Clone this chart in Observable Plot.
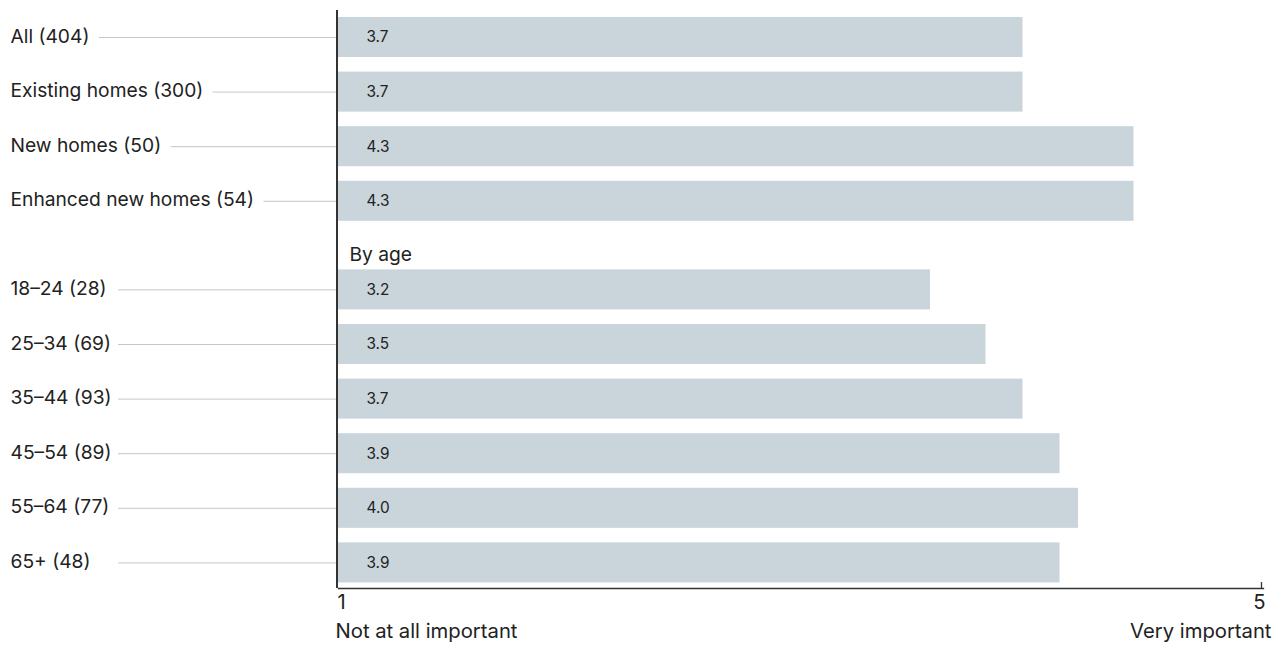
<!DOCTYPE html>
<html><head><meta charset="utf-8">
<script src="https://cdn.jsdelivr.net/npm/d3@7"></script>
<script src="https://cdn.jsdelivr.net/npm/@observablehq/plot@0.6"></script>
<style>body{margin:0;background:#fff;}</style>
</head><body><div id="chart"></div>
<script>
const overallLabels = ["All (404)", "Existing homes (300)", "New homes (50)", "Enhanced new homes (54)"];
const overallValues = [3.7, 3.7, 4.3, 4.3];
const ageLabels = ["18–24 (28)", "25–34 (69)", "35–44 (93)", "45–54 (89)", "55–64 (77)", "65+ (48)"];
const ageValues = [3.2, 3.5, 3.7, 3.9, 4.0, 3.9];
const groupTitle = "By age";
const tickValues = [0, 5];
const tickLabels = ["1", "5"];
const axisEndLabels = ["Not at all important", "Very important"];

const W = 1282, H = 651;
const mL = 338, mR = 19, mT = 2, mB = 63;
const FAMILY = "Inter";
const ageShift = 34;
const barFill = "#c9d5da";
const ink = "#222";

const ctx = document.createElement("canvas").getContext("2d");
const measure = (s, size) => { ctx.font = `${size}px ${FAMILY}`; return ctx.measureText(s).width; };
// font size fitted so that a reference string reaches the width seen in the original
const fitSize = (s, target) => +(20 * target / measure(s, 20)).toFixed(2);
const labelSize = fitSize("Existing homes (300)", 193);
const valueSize = fitSize("3.7", 22);
const axisSize = fitSize("Not at all important", 182);

const overallRows = overallLabels.map((label, i) => ({label, value: overallValues[i], group: "overall"}));
const ageRows = ageLabels.map((label, i) => ({label, value: ageValues[i], group: "age"}));
const rows = [...overallRows, ...ageRows];

const pxPerUnit = (W - mL - mR) / 5;
const labelLeft = 10;
const ageMax = d3.max(ageRows, r => measure(r.label, labelSize));
const leaderStart = r => {
  const end = r.group === "age" ? ageMax + 7 : measure(r.label, labelSize) + 10;
  return (labelLeft + end - mL) / pxPerUnit;
};

function groupMarks(data, dy) {
  return [
    Plot.ruleY(data, {y: "label", x1: leaderStart, x2: 0, stroke: "#c6c6c6", strokeWidth: 1, dy}),
    Plot.barX(data, {x: "value", y: "label", fill: barFill, dy}),
    Plot.text(data, {x: 0, y: "label", text: d => d.value.toFixed(1), textAnchor: "start", dx: 28, fontSize: valueSize, dy}),
    Plot.text(data, {y: "label", text: "label", frameAnchor: "left", textAnchor: "start", dx: labelLeft - mL, fontSize: labelSize, dy: dy - 1})
  ];
}

const chart = Plot.plot({
  width: W, height: H,
  marginLeft: mL, marginRight: mR, marginTop: mT, marginBottom: mB,
  style: {fontFamily: FAMILY, fontSize: labelSize + "px", color: ink, background: "#fff"},
  x: {domain: [0, 5], axis: null},
  y: {type: "band", domain: rows.map(r => r.label), range: [2.4, 563], padding: 0.267, round: false, axis: null},
  marks: [
    ...groupMarks(overallRows, 0),
    ...groupMarks(ageRows, ageShift),
    Plot.text([groupTitle], {x: 0, y: () => ageLabels[0], text: d => d, textAnchor: "start", dx: 11, dy: -1, fontSize: labelSize}),
    Plot.ruleX([0], {stroke: "#333", strokeWidth: 2, dx: -1.5, insetTop: 8}),
    Plot.frame({anchor: "bottom", stroke: "#333", strokeWidth: 1.3}),
    Plot.ruleX([tickValues[1]], {stroke: "#333", strokeWidth: 1.3, insetTop: (H - mT - mB) - 6, dx: -2}),
    Plot.text([tickValues[0]], {x: d => d, text: () => tickLabels[0], frameAnchor: "bottom", dy: 20, textAnchor: "start", dx: -1, fontSize: axisSize}),
    Plot.text([tickValues[1]], {x: d => d, text: () => tickLabels[1], frameAnchor: "bottom", dy: 20, textAnchor: "end", dx: 2, fontSize: axisSize}),
    Plot.text([tickValues[0]], {x: d => d, text: () => axisEndLabels[0], frameAnchor: "bottom", dy: 49, textAnchor: "start", dx: -3, fontSize: axisSize}),
    Plot.text([tickValues[1]], {x: d => d, text: () => axisEndLabels[1], frameAnchor: "bottom", dy: 49, textAnchor: "end", dx: 8, fontSize: axisSize})
  ]
});
document.getElementById("chart").appendChild(chart);
</script>
</body></html>
